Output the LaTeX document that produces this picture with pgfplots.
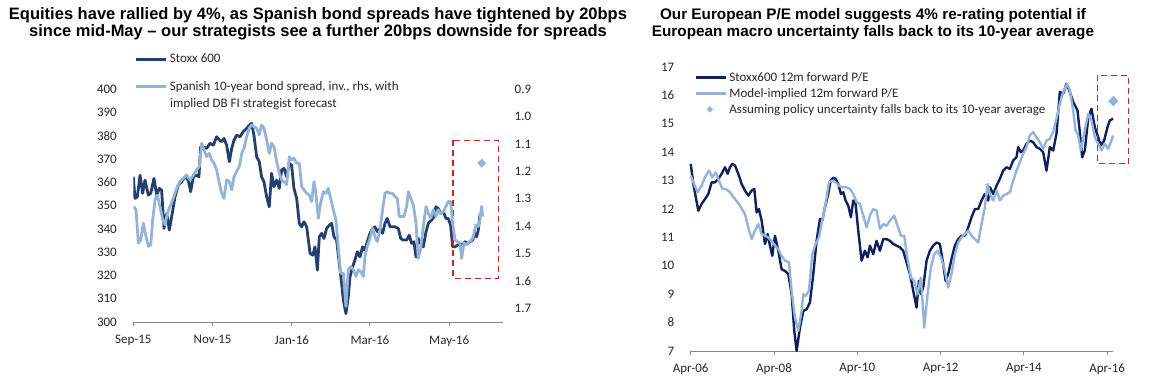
\documentclass[border=0pt]{standalone}
\usepackage{fontspec}
\setmainfont{Carlito}
\newfontfamily\titlefont{Liberation Sans}
\usepackage{pgfplots}
\pgfplotsset{compat=1.18}
\definecolor{darkL}{RGB}{34,63,110}
\definecolor{darkR}{RGB}{16,32,92}
\definecolor{lightB}{RGB}{149,179,215}
\definecolor{boxred}{RGB}{192,40,45}
\definecolor{axgray}{RGB}{134,134,134}
\pgfplotsset{
  common/.style={
    scale only axis,
    /pgf/number format/assume math mode=true,
    tick label style={font=\fontsize{13}{15}\selectfont, text=black!85},
    legend style={draw=none, fill=none, inner sep=0pt, outer sep=0pt,
      nodes={inner sep=0pt, font=\fontsize{13}{15}\selectfont, text=black!85},
      column sep=2pt},
    legend cell align=left,
  },
  legline/.style={legend image code/.code={\draw[##1] (0pt,0pt) -- (30pt,0pt);}},
  diamondlegend/.style={legend image code/.code={\draw[##1, mark size=2pt] plot coordinates {(13.7pt,0pt)};}},
}
\begin{document}
\begin{tikzpicture}
\useasboundingbox (0pt,0pt) rectangle (1155pt,-380pt);
% titles
\node[font=\titlefont\bfseries\fontsize{16.5}{19}\selectfont, anchor=base] at (318pt,-19pt) {Equities have rallied by 4\%, as Spanish bond spreads have tightened by 20bps};
\node[font=\titlefont\bfseries\fontsize{16.5}{19}\selectfont, anchor=base] at (318pt,-36pt) {since mid-May – our strategists see a further 20bps downside for spreads};
\node[font=\titlefont\bfseries\fontsize{15.3}{19}\selectfont, anchor=base] at (873pt,-19pt) {Our European P/E model suggests 4\% re-rating potential if};
\node[font=\titlefont\bfseries\fontsize{15.3}{19}\selectfont, anchor=base] at (873pt,-36pt) {European macro uncertainty falls back to its 10-year average};

% ---------- left chart, left axis ----------
\begin{axis}[common,
  at={(133.3pt,-322pt)}, anchor=south west,
  width=369.4pt, height=232.7pt,
  xmin=0, xmax=284.2, ymin=300, ymax=400,
  axis x line*=bottom, axis y line*=left,
  x axis line style={draw=axgray, line width=1pt, -},
  y axis line style={draw=none},
  xtick={0,61,122,182,243},
  xticklabels={Sep-15,Nov-15,Jan-16,Mar-16,May-16},
  xticklabel style={yshift=-6pt},
  x tick style={draw=axgray, line width=1pt},
  tick align=outside, major tick length=4pt,
  ytick={300,310,320,330,340,350,360,370,380,390,400},
  y tick style={draw=none},
  yticklabel style={xshift=-9pt},
]
\addplot[darkL, line width=2.8pt, line join=round] coordinates {
(0,362.4)(1.3,353.1)(3.1,353.8)(5.2,363.1)(7.2,355.3)(9.0,361)(11.6,354.5)(13.4,355.3)(15.9,361.7)(18,354.5)(20,357.4)(21.8,356.7)(23.6,340.2)(25.7,346.7)(27.7,339.5)(29.5,345.2)(32.1,353.8)(34.6,358.8)(37.2,360.3)(39.8,362.4)(42.3,361)(44.1,356)(46.2,362.4)(48.7,363.1)(50.5,362.4)(51.8,375.3)(53.9,375.3)(56.4,374.6)(59,376.8)(61.6,376)(64.1,379.6)(66.2,378.2)(68,377.5)(69.8,378.9)(71.8,376)(73.9,368.9)(75.7,374.6)(77.5,378.2)(79.5,380.3)(82.1,379.6)(84.6,381.8)(87.2,383.2)(89.3,384.6)(91,385.4)(92.8,380.3)(94.9,371)(96.9,368.9)(98.7,362.4)(100.5,360.3)(102.6,353.8)(104.6,349.5)(106.4,363.9)(108.2,358.1)(110.3,361)(112.3,357.4)(114.1,365.3)(115.9,366)(118,362.4)(120,368.2)(121.8,367.4)(123.6,357.4)(125.7,353.1)(127.7,342.4)(129.5,340.9)(131.3,343.1)(133.4,340.9)(136,329.5)(138,328.7)(139.8,332.3)(141.6,322.3)(143.1,336.6)(144.9,338.1)(146.7,335.9)(148.7,340.2)(150.8,341.6)(152.6,342.4)(154.4,336.6)(156.4,335.2)(158.5,325.1)(160.3,316.5)(161.6,309.4)(163.6,303.6)(165.4,310.8)(166.7,319.4)(168.7,323.7)(170.5,326.6)(172.3,330.2)(174.4,328)(176.4,332.3)(178.2,330.9)(180,334.5)(182.1,338.1)(184.1,340.2)(185.9,340.9)(187.7,338.8)(189.8,340.2)(191.8,338.1)(193.6,342.4)(195.4,344.5)(197.5,340.9)(199.5,340.9)(201.3,340.9)(203.9,340.2)(205.7,335.9)(207.7,335.2)(210.3,335.2)(212.3,337.3)(214.1,333.8)(215.9,334.5)(217.5,328)(219.2,335.9)(221,333.8)(223.1,332.3)(225.2,338.8)(227,342.4)(229.5,343.8)(231.3,345.2)(232.8,349.5)(234.6,348.8)(236.4,346.7)(238.5,347.4)(240.5,344.5)(242.3,344.5)(244.1,341.6)(245.7,332.3)(247.5,332.3)(249.3,333)(251.3,333.8)(253.4,333)(255.2,334.5)(257,333.8)(259,334.5)(261.1,335.2)(262.8,338.1)(264.1,336.6)(265.4,339.5)(266.7,345.9)(268,346.6)
};
\draw[boxred, line width=1.3pt, dash pattern=on 6pt off 4pt] (axis cs:246,378) rectangle (axis cs:281,318.7);
\end{axis}

% ---------- left chart, right axis ----------
\begin{axis}[common,
  at={(133.3pt,-322pt)}, anchor=south west,
  width=369.4pt, height=232.7pt,
  xmin=0, xmax=284.2, ymin=0.9, ymax=1.75, y dir=reverse,
  axis x line=none, axis y line*=right,
  y axis line style={draw=none},
  ytick={0.9,1,1.1,1.2,1.3,1.4,1.5,1.6,1.7},
  y tick style={draw=none},
  yticklabel style={xshift=8.5pt, /pgf/number format/.cd, fixed, fixed zerofill, precision=1},
  legend style={at={(0.0046,1.070)}, anchor=west, row sep=17pt},
]
\addlegendimage{darkL, line width=2.8pt, legline}
\addlegendentry{Stoxx 600}
\addplot[lightB, line width=2.8pt, line join=round, legline] coordinates {
(0,1.328)(2.1,1.340)(3.9,1.462)(5.7,1.450)(7.7,1.389)(9.8,1.438)(11.6,1.474)(13.4,1.468)(14.9,1.377)(16.7,1.304)(18.5,1.286)(20.5,1.328)(22.6,1.377)(24.4,1.395)(26.2,1.353)(28.2,1.328)(30.8,1.298)(33.4,1.261)(35.9,1.237)(38.5,1.225)(41.1,1.213)(43.6,1.231)(46.2,1.213)(48.7,1.195)(50.8,1.182)(52.6,1.097)(54.4,1.121)(56.4,1.146)(58.5,1.134)(60.3,1.158)(62.1,1.170)(64.1,1.195)(66.2,1.243)(68,1.280)(69.8,1.298)(71.8,1.231)(73.9,1.237)(75.7,1.267)(77.5,1.219)(79.5,1.200)(81.6,1.182)(83.4,1.134)(85.2,1.115)(87.2,1.073)(89.3,1.042)(91,1.030)(92.8,1.036)(94.9,1.042)(96.9,1.067)(98.7,1.030)(100.5,1.042)(102.6,1.085)(104.6,1.134)(106.4,1.097)(108.2,1.109)(110.3,1.164)(112.3,1.207)(114.1,1.231)(115.9,1.237)(118,1.249)(120,1.146)(121.8,1.158)(123.6,1.152)(125.7,1.170)(127.7,1.170)(129.5,1.255)(131.3,1.267)(133.4,1.280)(135.4,1.286)(137.2,1.310)(139,1.237)(140.5,1.280)(142.3,1.371)(144.1,1.316)(146.2,1.274)(148.2,1.280)(150,1.261)(151.8,1.298)(153.9,1.340)(155.9,1.377)(157.7,1.474)(159.5,1.572)(161.6,1.572)(163.6,1.693)(165.4,1.559)(167.2,1.547)(169.3,1.559)(171.3,1.584)(173.1,1.559)(174.9,1.566)(177,1.584)(178.2,1.511)(180,1.474)(182.1,1.444)(184.1,1.407)(185.9,1.438)(187.7,1.456)(189.8,1.413)(191.8,1.340)(193.6,1.280)(195.4,1.274)(197.5,1.280)(199.5,1.280)(201.3,1.292)(203.1,1.298)(204.6,1.365)(206.4,1.365)(208.2,1.365)(210.3,1.328)(211.6,1.274)(213.4,1.298)(215.4,1.322)(217.5,1.389)(219.2,1.517)(221,1.486)(223.1,1.401)(225.2,1.328)(227,1.353)(228.8,1.371)(230.8,1.340)(232.8,1.365)(234.6,1.340)(236.4,1.353)(238.5,1.347)(240.5,1.328)(242.3,1.310)(244.1,1.310)(245.7,1.389)(247.5,1.450)(249.3,1.456)(251.3,1.462)(252.6,1.517)(254.4,1.462)(256.4,1.468)(258.5,1.456)(260.3,1.450)(261.5,1.438)(263.6,1.395)(265.4,1.401)(266.7,1.377)(268,1.328)(268.8,1.365)
};
\addlegendentry{Spanish 10-year bond spread, inv., rhs, with}
\addplot[only marks, mark=square*, mark size=2.9pt, mark options={rotate=45, fill=lightB, draw=lightB}, forget plot] coordinates {(268,1.17)};
\end{axis}
\node[anchor=west, inner sep=0pt, font=\fontsize{13}{15}\selectfont, text=black!85] at (170pt,-104pt) {implied DB FI strategist forecast};

% ---------- right chart ----------
\begin{axis}[common,
  at={(690.7pt,-351pt)}, anchor=south west,
  width=422.3pt, height=284pt,
  xmin=2006.25, xmax=2016.39, ymin=7, ymax=17, clip=false,
  axis x line*=bottom, axis y line*=left,
  x axis line style={draw=axgray, line width=1pt, -},
  y axis line style={draw=none},
  xtick={2006.25,2008.25,2010.25,2012.25,2014.25,2016.25},
  xticklabels={Apr-06,Apr-08,Apr-10,Apr-12,Apr-14,Apr-16},
  xticklabel style={yshift=-5pt},
  x tick style={draw=axgray, line width=1pt},
  tick align=outside, major tick length=4pt,
  ytick={7,8,9,10,11,12,13,14,15,16,17},
  y tick style={draw=none},
  yticklabel style={xshift=-9pt},
  legend style={at={(0.0102,0.981)}, anchor=north west, row sep=5.3pt},
]
\addplot[darkR, line width=2.4pt, line join=round, legline] coordinates {
(2006.25,13.59)(2006.313,12.88)(2006.433,11.94)(2006.513,12.18)(2006.593,12.35)(2006.673,12.53)(2006.753,12.94)(2006.833,12.94)(2006.913,13.06)(2006.993,13.24)(2007.073,13.47)(2007.137,13.24)(2007.193,13.47)(2007.249,13.59)(2007.313,13.53)(2007.393,13.24)(2007.473,12.88)(2007.553,12.65)(2007.633,12.47)(2007.713,12.65)(2007.777,12.71)(2007.833,11.88)(2007.889,12.00)(2007.953,11.59)(2008.033,10.77)(2008.097,11.12)(2008.153,10.71)(2008.209,10.35)(2008.273,11.06)(2008.353,10.53)(2008.433,9.88)(2008.513,9.82)(2008.593,9.71)(2008.673,9.00)(2008.737,7.71)(2008.793,7.00)(2008.873,7.82)(2008.953,8.41)(2009.033,8.47)(2009.113,8.71)(2009.193,9.71)(2009.273,10.88)(2009.353,11.65)(2009.409,11.59)(2009.473,12.06)(2009.553,12.53)(2009.609,13.00)(2009.673,13.10)(2009.729,13.06)(2009.793,12.88)(2009.857,12.53)(2009.913,12.59)(2009.969,12.30)(2010.033,12.12)(2010.097,11.71)(2010.153,12.30)(2010.209,12.18)(2010.273,11.24)(2010.353,10.18)(2010.433,10.53)(2010.497,10.30)(2010.553,10.71)(2010.633,10.41)(2010.713,10.88)(2010.793,10.53)(2010.873,10.94)(2010.953,10.94)(2011.033,10.88)(2011.113,10.77)(2011.193,10.71)(2011.273,10.65)(2011.353,10.53)(2011.433,10.12)(2011.513,9.71)(2011.593,9.12)(2011.673,8.53)(2011.729,9.47)(2011.777,9.00)(2011.833,9.24)(2011.913,10.18)(2011.993,10.53)(2012.073,10.71)(2012.153,10.82)(2012.233,10.77)(2012.313,10.06)(2012.369,9.47)(2012.433,9.71)(2012.513,10.24)(2012.593,10.71)(2012.673,10.94)(2012.753,11.06)(2012.833,11.06)(2012.913,11.35)(2012.993,11.71)(2013.073,12.00)(2013.153,12.00)(2013.233,12.30)(2013.313,12.53)(2013.393,12.30)(2013.433,12.77)(2013.513,12.53)(2013.593,12.82)(2013.673,13.06)(2013.753,13.35)(2013.833,13.47)(2013.913,13.41)(2013.993,13.71)(2014.073,13.82)(2014.113,14.18)(2014.177,14.00)(2014.233,14.06)(2014.313,14.30)(2014.393,14.41)(2014.473,14.35)(2014.553,14.18)(2014.633,14.12)(2014.713,14.00)(2014.793,13.35)(2014.873,14.18)(2014.953,14.06)(2015.033,14.65)(2015.113,16.12)(2015.193,16.06)(2015.273,16.41)(2015.353,16.12)(2015.433,15.77)(2015.537,15.47)(2015.593,14.71)(2015.649,13.82)(2015.713,14.06)(2015.793,15.18)(2015.873,15.53)(2015.953,14.88)(2016.033,14.53)(2016.097,14.24)(2016.177,14.41)(2016.257,14.88)(2016.313,15.12)(2016.39,15.18)
};
\addlegendentry{Stoxx600 12m forward P/E}
\addplot[lightB, line width=2.4pt, line join=round, legline] coordinates {
(2006.25,13.18)(2006.313,12.94)(2006.417,12.59)(2006.513,12.82)(2006.593,13.12)(2006.689,13.35)(2006.769,13.12)(2006.849,13.29)(2006.929,13.00)(2007.009,12.71)(2007.089,12.71)(2007.193,12.59)(2007.313,12.35)(2007.433,12.12)(2007.553,11.82)(2007.633,11.35)(2007.713,10.94)(2007.793,11.24)(2007.873,11.47)(2007.953,11.12)(2008.033,11.06)(2008.113,11.00)(2008.193,10.88)(2008.273,10.71)(2008.353,10.59)(2008.433,10.35)(2008.513,10.18)(2008.609,10.12)(2008.673,9.12)(2008.753,8.18)(2008.833,7.71)(2008.913,8.41)(2008.953,9.00)(2009.009,8.94)(2009.089,9.12)(2009.169,10.41)(2009.249,10.77)(2009.329,11.00)(2009.409,11.59)(2009.489,12.18)(2009.569,12.94)(2009.649,13.00)(2009.729,12.94)(2009.809,12.82)(2009.889,12.77)(2009.969,12.77)(2010.073,12.71)(2010.153,12.53)(2010.233,12.24)(2010.313,12.18)(2010.393,11.77)(2010.473,11.35)(2010.553,11.77)(2010.633,12.00)(2010.713,11.94)(2010.793,11.30)(2010.873,11.47)(2010.953,11.41)(2011.033,11.59)(2011.137,11.77)(2011.217,11.41)(2011.297,11.06)(2011.377,11.06)(2011.457,10.24)(2011.537,9.59)(2011.617,9.47)(2011.697,9.00)(2011.777,9.59)(2011.857,7.82)(2011.937,9.00)(2012.017,9.94)(2012.097,10.41)(2012.177,10.53)(2012.257,10.30)(2012.337,9.94)(2012.433,9.24)(2012.513,9.71)(2012.593,10.41)(2012.673,10.82)(2012.753,11.00)(2012.833,11.12)(2012.913,11.24)(2012.993,11.06)(2013.073,10.94)(2013.153,10.82)(2013.233,11.47)(2013.313,12.06)(2013.377,12.88)(2013.433,12.53)(2013.513,12.30)(2013.593,12.65)(2013.673,12.30)(2013.753,12.47)(2013.833,12.53)(2013.913,12.59)(2013.993,13.00)(2014.073,13.35)(2014.153,13.65)(2014.233,13.94)(2014.313,14.18)(2014.393,14.59)(2014.473,14.71)(2014.553,14.53)(2014.633,14.35)(2014.713,14.12)(2014.793,14.41)(2014.873,14.47)(2014.953,14.71)(2015.033,15.18)(2015.113,15.71)(2015.193,16.12)(2015.289,16.41)(2015.353,16.18)(2015.433,15.47)(2015.489,14.77)(2015.553,14.59)(2015.617,14.06)(2015.697,14.65)(2015.793,15.35)(2015.873,15.12)(2015.953,14.53)(2016.033,14.30)(2016.113,14.06)(2016.193,14.30)(2016.273,14.12)(2016.353,14.41)(2016.39,14.59)
};
\addlegendentry{Model-implied 12m forward P/E}
\addplot[only marks, mark=square*, mark size=3.5pt, mark options={rotate=45, fill=lightB, draw=lightB}, diamondlegend] coordinates {(2016.4,15.8)};
\addlegendentry{Assuming policy uncertainty falls back to its 10-year average}
\draw[boxred, line width=1.3pt, dash pattern=on 6pt off 4pt] (axis cs:2016.01,16.71) rectangle (axis cs:2016.76,13.59);
\end{axis}
\end{tikzpicture}
\end{document}
